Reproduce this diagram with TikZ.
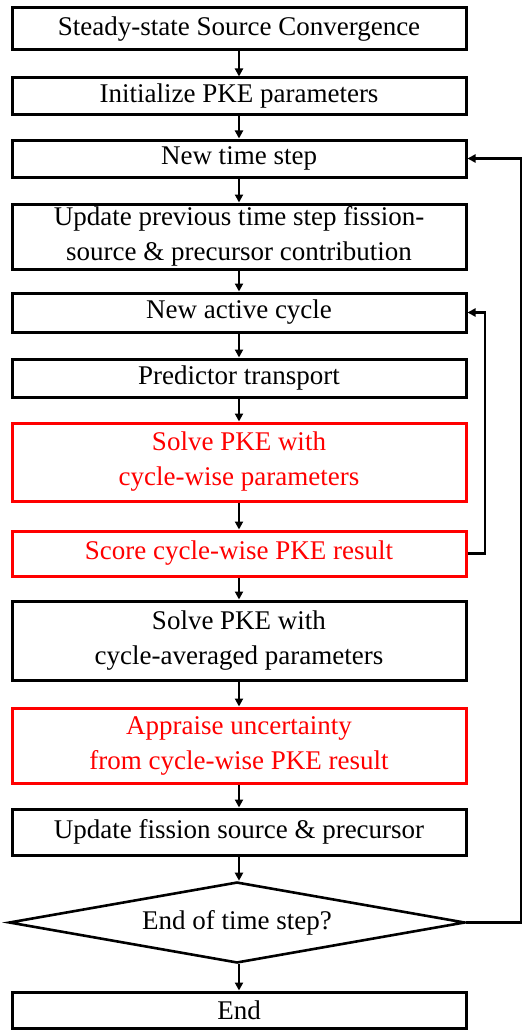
\documentclass[tikz,border=0pt]{standalone}
\usepackage{fontspec}
\setmainfont{Liberation Serif}
\usetikzlibrary{arrows.meta,shapes.geometric}
\begin{document}
\begin{tikzpicture}[x=1pt,y=-1pt,
  every node/.style={font=\fontsize{27}{35}\selectfont},
  box/.style={draw=black,line width=3pt,minimum width=454pt,inner sep=0pt,align=center,text=black},
  redbox/.style={box,draw=red,text=red},
  dec/.style={draw=black,line width=2.6pt,diamond,aspect=5.6,minimum width=456pt,minimum height=81pt,inner sep=0pt},
  arr/.style={line width=2.2pt,-{Triangle[length=8pt,width=8pt]}}]
\useasboundingbox (0,0) rectangle (523,1030);
\node[box,minimum height=42pt] (b1) at (239,29) {Steady-state Source Convergence};
\node[box,minimum height=37pt] (b2) at (239,96.5) {Initialize PKE parameters};
\node[box,minimum height=37pt] (b3) at (239,158.5) {New time step};
\node[box,minimum height=65pt] (b4) at (239,236.5) {Update previous time step fission-\\source \& precursor contribution};
\node[box,minimum height=39pt] (b5) at (239,312.5) {New active cycle};
\node[box,minimum height=38pt] (b6) at (239,378) {Predictor transport};
\node[redbox,minimum height=78pt] (b7) at (239,462) {Solve PKE with\\cycle-wise parameters};
\node[redbox,minimum height=45pt] (b8) at (239,553.5) {Score cycle-wise PKE result};
\node[box,minimum height=79pt] (b9) at (239,640.5) {Solve PKE with\\cycle-averaged parameters};
\node[redbox,minimum height=75pt] (b10) at (239,745.5) {Appraise uncertainty\\from cycle-wise PKE result};
\node[box,minimum height=46pt] (b11) at (239,832) {Update fission source \& precursor};
\node[dec] (d) at (237,922.5) {};
\node at (d.center) {End of time step?};
\node[box,minimum height=36pt] (b12) at (239,1010) {End};
\coordinate (c1) at (485,553.5);
\coordinate (c2) at (485,312.5);
\coordinate (c3) at (521,922.5);
\coordinate (c4) at (521,158.5);
\foreach \a/\b in {b1/b2,b2/b3,b3/b4,b4/b5,b5/b6,b6/b7,b7/b8,b8/b9,b9/b10,b10/b11}
  \draw[arr] (\a.south) -- (\b.north);
\draw[arr] (b11.south) -- (b11.south |- d.north);
\draw[arr] (b12.north |- d.south) -- (b12.north);
\draw[arr] (b8.east) -- (c1) -- (c2) -- (b5.east);
\draw[arr] (d.east) -- (c3) -- (c4) -- (b3.east);
\end{tikzpicture}
\end{document}
